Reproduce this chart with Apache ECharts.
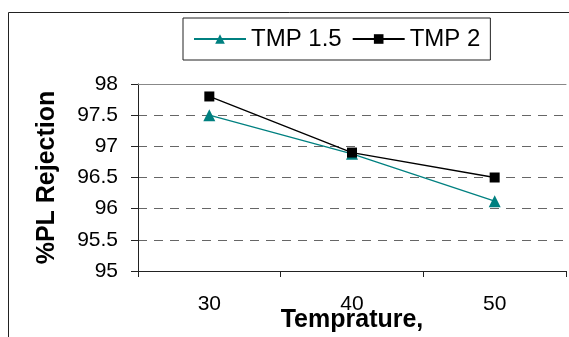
<!DOCTYPE html>
<html>
<head>
<meta charset="utf-8">
<script src="https://cdn.jsdelivr.net/npm/echarts@6/dist/echarts.min.js"></script>
<style>html,body{margin:0;padding:0;background:#fff}#c{width:569px;height:337px}</style>
</head>
<body>
<div id="c"></div>
<script>
const categories = ['30', '40', '50'];
const tmp15 = [97.5, 96.88, 96.12];
const tmp2 = [97.8, 96.9, 96.5];
const seriesNames = ['TMP 1.5', 'TMP 2'];
const yMin = 95, yMax = 98, yStep = 0.5;

const chart = echarts.init(document.getElementById('c'), null, {renderer: 'canvas'});
const font = 'Liberation Sans, Arial, sans-serif';
chart.setOption({
  animation: false,
  backgroundColor: '#fff',
  graphic: [{
    type: 'rect', shape: {x: 8.5, y: 12.5, width: 600, height: 400},
    style: {fill: 'none', stroke: '#222', lineWidth: 1}, z: 0
  }],
  legend: {
    left: 183, top: 18,
    padding: [9, 10, 9, 10],
    borderColor: '#222', borderWidth: 1,
    itemWidth: 52, itemHeight: 12, itemGap: 10,
    textStyle: {fontFamily: font, fontSize: 24, color: '#000'},
    data: seriesNames
  },
  grid: {left: 138, top: 84, right: 3, bottom: 66, containLabel: false, outerBoundsMode: 'none'},
  xAxis: [{
    type: 'category', data: categories, position: 'bottom',
    name: 'Temprature,', nameLocation: 'middle', nameGap: 37, nameMoveOverlap: false,
    nameTextStyle: {fontFamily: font, fontSize: 25, fontWeight: 'bold', color: '#000'},
    axisLine: {lineStyle: {color: '#222', width: 1}},
    axisTick: {show: true, length: 6, lineStyle: {color: '#222'}},
    axisLabel: {fontFamily: font, fontSize: 21, color: '#000', margin: 23},
    splitLine: {show: false}
  }, {
    type: 'category', data: categories, position: 'top',
    axisLine: {show: true, lineStyle: {color: '#888', width: 1}},
    axisTick: {show: false}, axisLabel: {show: false}, splitLine: {show: false}
  }],
  yAxis: {
    type: 'value', min: yMin, max: yMax, interval: yStep,
    name: '%PL Rejection', nameLocation: 'middle', nameGap: 78, nameRotate: 90, nameMoveOverlap: false,
    nameTextStyle: {fontFamily: font, fontSize: 25, fontWeight: 'bold', color: '#000'},
    axisLine: {show: true, lineStyle: {color: '#222', width: 1}},
    axisTick: {show: true, length: 7, lineStyle: {color: '#222'}},
    axisLabel: {fontFamily: font, fontSize: 21, color: '#000', margin: 20},
    splitLine: {show: true, lineStyle: {type: [9, 7], color: '#666', width: 1}}
  },
  series: [{
    name: seriesNames[0], type: 'line', data: tmp15,
    symbol: 'triangle', symbolSize: 12, showSymbol: true,
    lineStyle: {color: '#008080', width: 1.3},
    itemStyle: {color: '#008080'}
  }, {
    name: seriesNames[1], type: 'line', data: tmp2,
    symbol: 'rect', symbolSize: 10, showSymbol: true,
    lineStyle: {color: '#000', width: 1.3},
    itemStyle: {color: '#000'}
  }]
});
</script>
</body>
</html>
